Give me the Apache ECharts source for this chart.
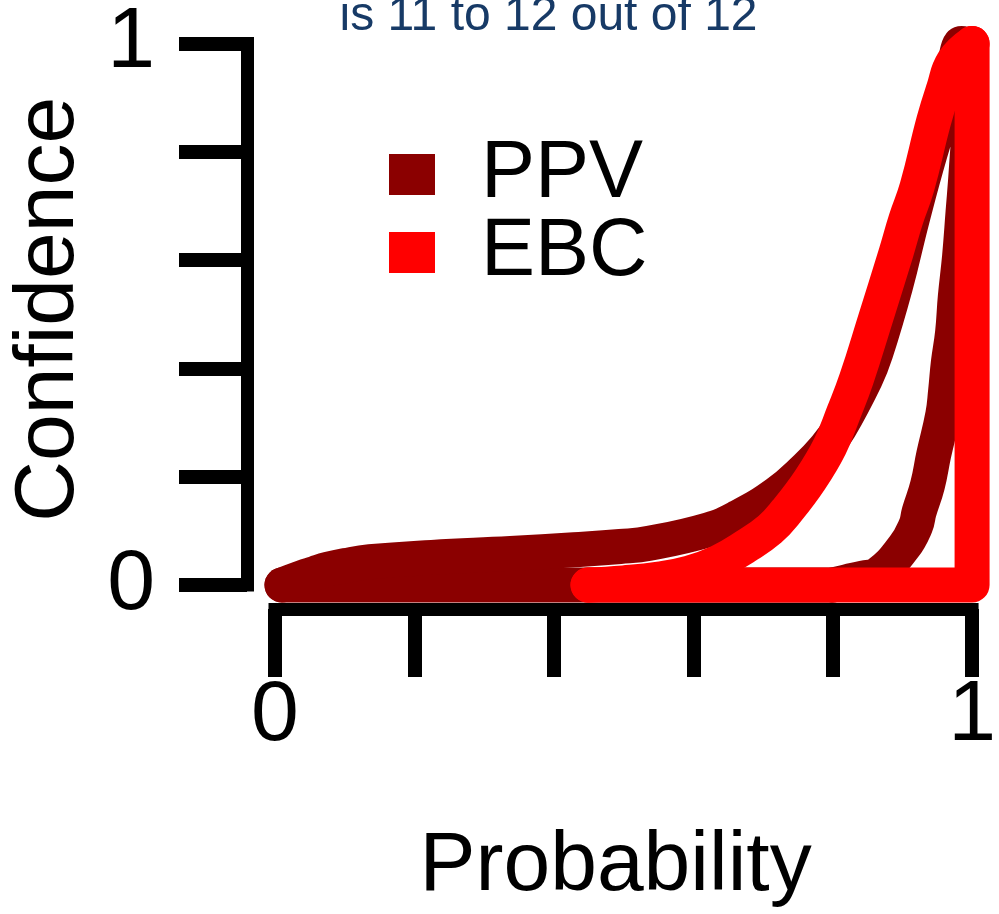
<!DOCTYPE html>
<html>
<head>
<meta charset="utf-8">
<title>Confidence curves</title>
<script src="https://cdn.jsdelivr.net/npm/echarts@6/dist/echarts.min.js"></script>
<style>
  html, body { margin: 0; padding: 0; background: #ffffff; }
  #chart { width: 999px; height: 914px; }
</style>
</head>
<body>
<div id="chart"></div>
<script>
// PPV confidence curve: rising edge up to the peak, then the falling edge back to zero.
const ppvEdge = [
  [0.010, 0.000], [0.039, 0.014], [0.056, 0.021], [0.076, 0.029], [0.101, 0.036],
  [0.136, 0.043], [0.225, 0.051], [0.338, 0.058], [0.429, 0.065], [0.495, 0.071],
  [0.537, 0.077], [0.622, 0.102], [0.664, 0.125], [0.720, 0.169], [0.762, 0.216],
  [0.788, 0.251], [0.810, 0.290], [0.847, 0.380], [0.862, 0.429], [0.890, 0.551],
  [0.914, 0.675], [0.940, 0.798], [0.967, 0.910], [0.985, 1.000], [0.994, 0.950],
  [0.996, 0.872], [0.992, 0.772], [0.987, 0.688], [0.982, 0.606], [0.976, 0.533],
  [0.972, 0.466], [0.966, 0.411], [0.962, 0.358], [0.958, 0.315], [0.945, 0.241],
  [0.936, 0.184], [0.924, 0.135], [0.919, 0.109], [0.902, 0.070], [0.865, 0.020],
  [0.844, 0.013], [0.820, 0.006], [0.800, 0.000]
];
// PPV base along zero confidence.
const ppvBase = [[0.010, 0.000], [0.800, 0.000]];

// EBC confidence curve: from the top corner down the curved edge to zero.
const ebcEdge = [
  [1.000, 1.000], [0.973, 0.966], [0.959, 0.916], [0.945, 0.857], [0.921, 0.735],
  [0.905, 0.675], [0.891, 0.614], [0.861, 0.490], [0.834, 0.380], [0.816, 0.319],
  [0.796, 0.256], [0.768, 0.195], [0.733, 0.135], [0.710, 0.103], [0.676, 0.072],
  [0.636, 0.042], [0.594, 0.022], [0.551, 0.011], [0.500, 0.004], [0.449, 0.000]
];
// EBC base along zero and the right edge at probability 1.
const ebcFrame = [[0.449, 0.000], [1.000, 0.000], [1.000, 1.000]];

const seriesNames = ['PPV', 'EBC'];
const seriesColors = ['#8b0000', '#ff0000'];

const xTickValues = [0, 0.2, 0.4, 0.6, 0.8, 1];
const xTickLabels = ['0', '', '', '', '', '1'];
const yTickValues = [0, 0.2, 0.4, 0.6, 0.8, 1];
const yTickLabels = ['0', '', '', '', '', '1'];

const titleText = 'is 11 to 12 out of 12';
const xAxisTitle = 'Probability';
const yAxisTitle = 'Confidence';

const FONT = '"Liberation Sans", Arial, Helvetica, sans-serif';
const STROKE = 35;

function tickFormatter(values, labels) {
  return function (v) {
    const i = values.findIndex(function (t) { return Math.abs(t - v) < 1e-9; });
    return i >= 0 ? labels[i] : '';
  };
}

function axisCommon() {
  return {
    type: 'value',
    min: 0,
    max: 1,
    interval: 0.2,
    splitLine: { show: false },
    axisLine: { show: true, onZero: false, lineStyle: { color: '#000', width: 13, cap: 'square' } },
    axisTick: { show: true, inside: false, length: 68, lineStyle: { color: '#000', width: 14 } }
  };
}

function curveSeries(name, color, data, smooth, z) {
  return {
    name: name,
    type: 'line',
    data: data,
    smooth: smooth,
    showSymbol: false,
    symbol: 'none',
    clip: false,
    color: color,
    lineStyle: { color: color, width: STROKE, cap: 'round', join: 'round' },
    emphasis: { disabled: true },
    z: z
  };
}

const chart = echarts.init(document.getElementById('chart'), null, { renderer: 'canvas' });

chart.setOption({
  animation: false,
  backgroundColor: '#ffffff',
  title: {
    text: titleText,
    left: 548.5,
    top: 17,
    padding: 0,
    textAlign: 'center',
    textVerticalAlign: 'middle',
    textStyle: { fontFamily: FONT, fontSize: 48, fontWeight: 'normal', color: '#173a66' }
  },
  grid: { left: 268, right: 20, top: 43.5, bottom: 328, containLabel: false },
  legend: {
    orient: 'vertical',
    left: 389,
    top: 134,
    padding: 0,
    itemGap: -3,
    itemWidth: 46,
    itemHeight: 41,
    icon: 'rect',
    selectedMode: false,
    itemStyle: { borderWidth: 0 },
    textStyle: { fontFamily: FONT, fontSize: 81, color: '#000', lineHeight: 77, padding: [0, 0, 0, 41] },
    data: seriesNames
  },
  xAxis: Object.assign(axisCommon(), {
    position: 'bottom',
    offset: 24,
    name: xAxisTitle,
    nameLocation: 'middle',
    nameGap: 258,
    nameTextStyle: { fontFamily: FONT, fontSize: 84, color: '#000', verticalAlign: 'middle', padding: [0, 16, 0, 0] },
    axisLabel: {
      show: true, margin: 107, fontFamily: FONT, fontSize: 86, color: '#000',
      verticalAlign: 'middle', showMinLabel: true, showMaxLabel: true,
      formatter: tickFormatter(xTickValues, xTickLabels)
    }
  }),
  yAxis: Object.assign(axisCommon(), {
    position: 'left',
    offset: 28,
    name: yAxisTitle,
    nameLocation: 'middle',
    nameGap: 197,
    nameRotate: 90,
    nameTextStyle: { fontFamily: FONT, fontSize: 84, color: '#000', verticalAlign: 'middle', padding: [0, 0, 0, 10] },
    axisLabel: {
      show: true, margin: 92, fontFamily: FONT, fontSize: 86, color: '#000',
      verticalAlign: 'middle', showMinLabel: true, showMaxLabel: true,
      formatter: tickFormatter(yTickValues, yTickLabels)
    }
  }),
  series: [
    curveSeries(seriesNames[0], seriesColors[0], ppvBase, false, 2),
    curveSeries(seriesNames[0], seriesColors[0], ppvEdge, 0.45, 2),
    curveSeries(seriesNames[1], seriesColors[1], ebcFrame, false, 3),
    curveSeries(seriesNames[1], seriesColors[1], ebcEdge, 0.45, 3)
  ]
});
</script>
</body>
</html>
